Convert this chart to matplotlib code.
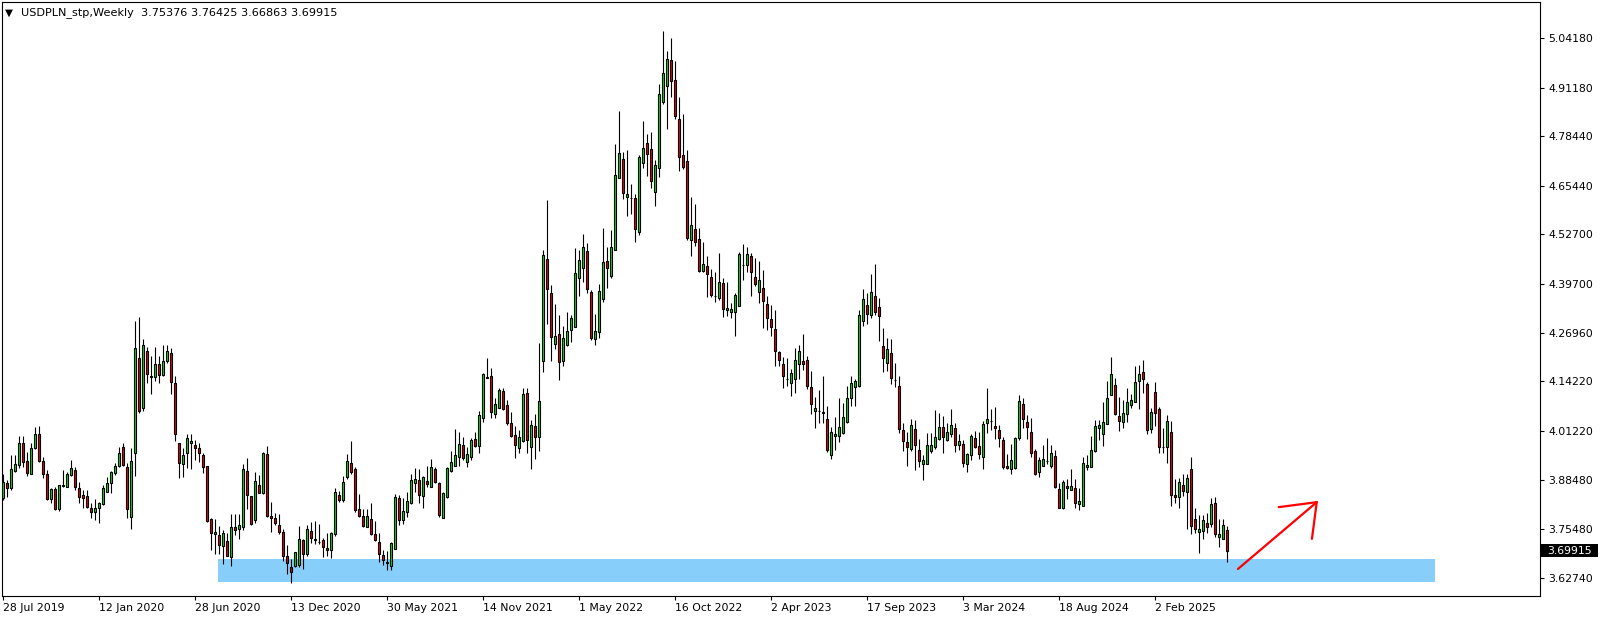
import matplotlib
matplotlib.use("Agg")
import matplotlib.pyplot as plt
import matplotlib.transforms as mtransforms
from matplotlib.patches import Rectangle

# weekly USDPLN candles, first bar = week of 28 Jul 2019
OPEN = [
    3.836, 3.875, 3.862, 3.908, 3.923, 3.980, 3.934, 3.899, 3.969, 4.004,
    3.934, 3.899, 3.833, 3.860, 3.807, 3.869, 3.865, 3.897, 3.910, 3.862,
    3.845, 3.842, 3.810, 3.799, 3.810, 3.820, 3.853, 3.875, 3.903, 3.921,
    3.970, 3.919, 3.786, 3.956, 4.203, 4.073, 4.222, 4.155, 4.153, 4.187,
    4.158, 4.196, 4.216, 4.137, 3.980, 3.925, 3.954, 3.980, 3.976, 3.967,
    3.949, 3.921, 3.781, 3.742, 3.739, 3.712, 3.724, 3.683, 3.762, 3.755,
    3.762, 3.907, 3.842, 3.778, 3.871, 3.851, 3.952, 3.790, 3.784, 3.766,
    3.747, 3.685, 3.655, 3.660, 3.661, 3.726, 3.689, 3.750, 3.729, 3.7228,
    3.726, 3.706, 3.701, 3.742, 3.844, 3.831, 3.891, 3.929, 3.912, 3.807,
    3.791, 3.762, 3.781, 3.743, 3.723, 3.687, 3.669, 3.660, 3.704, 3.836,
    3.779, 3.799, 3.823, 3.877, 3.884, 3.843, 3.881, 3.867, 3.913, 3.875,
    3.785, 3.839, 3.908, 3.922, 3.943, 3.975, 3.930, 3.945, 3.991, 3.974,
    4.046, 4.150, 4.156, 4.058, 4.072, 4.117, 4.080, 4.032, 4.001, 3.969,
    3.987, 4.111, 3.971, 4.025, 3.997, 4.196, 4.464, 4.373, 4.239, 4.266,
    4.196, 4.237, 4.278, 4.284, 4.412, 4.438, 4.484, 4.376, 4.252, 4.271,
    4.357, 4.457, 4.419, 4.486, 4.674, 4.724, 4.626, 4.623, 4.622, 4.534,
    4.715, 4.766, 4.750, 4.639, 4.700, 4.875, 4.917, 4.984, 4.931, 4.829,
    4.735, 4.719, 4.512, 4.541, 4.514, 4.432, 4.444, 4.415, 4.3665, 4.360,
    4.399, 4.328, 4.325, 4.323, 4.339, 4.4471, 4.446, 4.471, 4.415, 4.377,
    4.388, 4.344, 4.305, 4.279, 4.218, 4.187, 4.1494, 4.137, 4.148, 4.189,
    4.195, 4.197, 4.127, 4.066, 4.0655, 4.061, 4.045, 3.949, 3.998, 3.998,
    4.006, 4.037, 4.098, 4.128, 4.130, 4.301, 4.342, 4.315, 4.366, 4.336,
    4.234, 4.191, 4.217, 4.1468, 4.130, 4.014, 3.983, 3.966, 4.017, 3.963,
    3.927, 3.927, 3.961, 3.971, 3.991, 4.022, 3.990, 4.004, 4.019, 3.977,
    3.978, 3.925, 3.949, 3.993, 3.973, 3.945, 4.032, 4.038, 4.025, 4.015,
    3.989, 3.921, 3.912, 3.915, 3.995, 4.083, 4.035, 4.010, 3.961, 3.906,
    3.922, 3.9330, 3.922, 3.947, 3.860, 3.812, 3.868, 3.857, 3.864, 3.822,
    3.816, 3.919, 3.919, 3.961, 4.021, 4.004, 4.030, 4.107, 4.132, 4.051,
    4.037, 4.058, 4.080, 4.087, 4.142, 4.166, 4.135, 4.017, 4.114, 4.070,
    3.9714, 3.970, 4.009, 3.845, 3.839, 3.870, 3.853, 3.912, 3.781, 3.747,
    3.751, 3.771, 3.769, 3.823, 3.736, 3.730, 3.75376,
]
HIGH = [
    3.901, 3.884, 3.950, 3.950, 3.999, 3.999, 3.958, 3.980, 4.024, 4.025,
    3.945, 3.910, 3.864, 3.865, 3.871, 3.910, 3.905, 3.936, 3.919, 3.880,
    3.858, 3.858, 3.823, 3.833, 3.827, 3.871, 3.891, 3.908, 3.929, 3.971,
    3.980, 3.928, 3.967, 4.300, 4.310, 4.253, 4.233, 4.209, 4.232, 4.209,
    4.237, 4.237, 4.229, 4.156, 3.982, 3.967, 4.004, 4.004, 3.990, 3.980,
    3.956, 3.922, 3.784, 3.782, 3.764, 3.753, 3.744, 3.794, 3.794, 3.794,
    3.927, 3.941, 3.842, 3.906, 3.897, 3.958, 3.973, 3.827, 3.797, 3.794,
    3.757, 3.714, 3.676, 3.696, 3.764, 3.730, 3.766, 3.775, 3.777, 3.768,
    3.731, 3.744, 3.749, 3.864, 3.855, 3.894, 3.951, 3.986, 3.917, 3.847,
    3.807, 3.807, 3.823, 3.776, 3.745, 3.700, 3.698, 3.723, 3.847, 3.845,
    3.836, 3.852, 3.899, 3.915, 3.912, 3.895, 3.922, 3.938, 3.919, 3.878,
    3.852, 3.919, 3.960, 4.018, 4.009, 3.996, 3.971, 3.994, 4.009, 4.065,
    4.165, 4.203, 4.178, 4.100, 4.124, 4.124, 4.093, 4.061, 4.025, 4.015,
    4.125, 4.125, 4.041, 4.057, 4.242, 4.486, 4.617, 4.395, 4.345, 4.316,
    4.287, 4.325, 4.316, 4.491, 4.486, 4.528, 4.504, 4.381, 4.320, 4.397,
    4.544, 4.495, 4.539, 4.764, 4.851, 4.742, 4.748, 4.659, 4.633, 4.735,
    4.824, 4.790, 4.795, 4.722, 4.921, 5.060, 5.007, 5.042, 4.982, 4.888,
    4.842, 4.748, 4.626, 4.607, 4.544, 4.508, 4.470, 4.437, 4.429, 4.479,
    4.414, 4.402, 4.348, 4.375, 4.481, 4.502, 4.493, 4.478, 4.465, 4.457,
    4.434, 4.366, 4.341, 4.329, 4.223, 4.205, 4.203, 4.176, 4.231, 4.238,
    4.266, 4.209, 4.169, 4.102, 4.120, 4.156, 4.078, 4.024, 4.050, 4.098,
    4.086, 4.130, 4.156, 4.148, 4.329, 4.384, 4.375, 4.423, 4.450, 4.360,
    4.281, 4.255, 4.253, 4.190, 4.156, 4.032, 4.011, 4.044, 4.041, 3.991,
    3.949, 4.008, 4.008, 4.067, 4.059, 4.052, 4.032, 4.071, 4.032, 4.004,
    3.990, 3.956, 4.004, 4.013, 4.010, 4.039, 4.124, 4.070, 4.075, 4.029,
    3.997, 3.952, 3.978, 3.996, 4.107, 4.098, 4.054, 4.046, 3.966, 3.945,
    3.976, 3.995, 3.977, 3.963, 3.877, 3.884, 3.886, 3.913, 3.887, 3.863,
    3.945, 3.949, 3.999, 4.041, 4.041, 4.089, 4.142, 4.207, 4.150, 4.102,
    4.094, 4.124, 4.108, 4.183, 4.185, 4.198, 4.140, 4.072, 4.140, 4.076,
    4.021, 4.054, 4.039, 3.886, 3.888, 3.899, 3.900, 3.943, 3.812, 3.792,
    3.792, 3.798, 3.836, 3.839, 3.781, 3.782, 3.76425,
]
LOW = [
    3.832, 3.840, 3.858, 3.906, 3.915, 3.919, 3.895, 3.899, 3.964, 3.932,
    3.890, 3.832, 3.825, 3.805, 3.804, 3.865, 3.865, 3.895, 3.858, 3.823,
    3.810, 3.812, 3.785, 3.779, 3.772, 3.819, 3.852, 3.849, 3.897, 3.919,
    3.921, 3.784, 3.757, 3.895, 4.060, 4.065, 4.139, 4.108, 4.144, 4.137,
    4.157, 4.191, 4.108, 3.987, 3.888, 3.893, 3.916, 3.914, 3.936, 3.932,
    3.903, 3.775, 3.701, 3.690, 3.689, 3.664, 3.685, 3.659, 3.740, 3.730,
    3.753, 3.807, 3.766, 3.771, 3.849, 3.847, 3.788, 3.749, 3.766, 3.742,
    3.673, 3.638, 3.615, 3.657, 3.657, 3.651, 3.685, 3.718, 3.716, 3.716,
    3.683, 3.685, 3.681, 3.737, 3.827, 3.826, 3.886, 3.901, 3.801, 3.788,
    3.762, 3.760, 3.741, 3.725, 3.670, 3.661, 3.648, 3.648, 3.704, 3.766,
    3.770, 3.788, 3.821, 3.853, 3.825, 3.812, 3.866, 3.865, 3.875, 3.788,
    3.785, 3.836, 3.906, 3.921, 3.921, 3.936, 3.919, 3.936, 3.970, 3.954,
    4.037, 4.150, 4.047, 4.047, 4.072, 4.067, 4.028, 3.996, 3.942, 3.956,
    3.984, 3.956, 3.914, 3.938, 3.961, 4.168, 4.292, 4.196, 4.226, 4.146,
    4.183, 4.235, 4.246, 4.284, 4.366, 4.403, 4.374, 4.250, 4.237, 4.255,
    4.351, 4.386, 4.412, 4.486, 4.674, 4.621, 4.576, 4.580, 4.508, 4.525,
    4.702, 4.681, 4.649, 4.602, 4.678, 4.868, 4.804, 4.888, 4.829, 4.694,
    4.698, 4.512, 4.471, 4.498, 4.428, 4.429, 4.364, 4.362, 4.351, 4.355,
    4.312, 4.314, 4.309, 4.262, 4.339, 4.408, 4.430, 4.367, 4.392, 4.348,
    4.283, 4.278, 4.262, 4.183, 4.183, 4.126, 4.131, 4.105, 4.113, 4.148,
    4.172, 4.122, 4.056, 4.021, 4.034, 4.032, 3.958, 3.938, 3.962, 3.984,
    4.004, 4.032, 4.079, 4.079, 4.128, 4.287, 4.293, 4.307, 4.316, 4.249,
    4.168, 4.169, 4.136, 4.128, 4.008, 3.961, 3.922, 3.961, 3.911, 3.919,
    3.884, 3.927, 3.956, 3.964, 3.989, 3.956, 3.986, 3.997, 3.958, 3.963,
    3.917, 3.906, 3.936, 3.967, 3.940, 3.914, 4.008, 4.015, 3.992, 3.971,
    3.912, 3.912, 3.901, 3.914, 3.989, 4.019, 3.992, 3.945, 3.898, 3.893,
    3.921, 3.927, 3.915, 3.864, 3.810, 3.807, 3.833, 3.857, 3.812, 3.805,
    3.816, 3.910, 3.919, 3.958, 3.989, 3.973, 4.030, 4.107, 4.054, 4.013,
    4.019, 4.037, 4.072, 4.087, 4.071, 4.113, 4.004, 4.006, 4.025, 3.956,
    3.956, 3.928, 3.816, 3.823, 3.812, 3.842, 3.756, 3.743, 3.744, 3.694,
    3.729, 3.746, 3.760, 3.736, 3.708, 3.729, 3.66863,
]
CLOSE = [
    3.880, 3.862, 3.912, 3.925, 3.980, 3.932, 3.903, 3.967, 4.004, 3.934,
    3.899, 3.833, 3.860, 3.807, 3.870, 3.870, 3.901, 3.915, 3.865, 3.840,
    3.836, 3.814, 3.801, 3.810, 3.823, 3.862, 3.875, 3.905, 3.922, 3.954,
    3.923, 3.807, 3.935, 4.229, 4.066, 4.237, 4.162, 4.156, 4.187, 4.158,
    4.195, 4.222, 4.140, 4.004, 3.928, 3.949, 3.993, 3.986, 3.967, 3.954,
    3.917, 3.777, 3.744, 3.747, 3.713, 3.744, 3.686, 3.762, 3.753, 3.765,
    3.912, 3.844, 3.769, 3.881, 3.851, 3.954, 3.791, 3.785, 3.771, 3.747,
    3.685, 3.668, 3.644, 3.695, 3.729, 3.689, 3.756, 3.731, 3.727, 3.7224,
    3.709, 3.702, 3.744, 3.852, 3.832, 3.879, 3.934, 3.906, 3.805, 3.790,
    3.764, 3.791, 3.743, 3.727, 3.691, 3.674, 3.666, 3.720, 3.839, 3.779,
    3.802, 3.828, 3.884, 3.886, 3.846, 3.893, 3.873, 3.918, 3.880, 3.793,
    3.849, 3.915, 3.930, 3.949, 3.978, 3.942, 3.952, 3.989, 3.974, 4.053,
    4.162, 4.155, 4.063, 4.082, 4.120, 4.069, 4.032, 4.000, 3.975, 3.996,
    4.108, 3.988, 4.028, 3.997, 4.091, 4.473, 4.383, 4.259, 4.261, 4.194,
    4.257, 4.275, 4.307, 4.425, 4.460, 4.495, 4.383, 4.257, 4.274, 4.378,
    4.454, 4.438, 4.495, 4.684, 4.739, 4.636, 4.633, 4.622, 4.540, 4.729,
    4.753, 4.737, 4.668, 4.708, 4.896, 4.951, 4.986, 4.930, 4.838, 4.731,
    4.704, 4.517, 4.551, 4.508, 4.432, 4.450, 4.423, 4.368, 4.3657, 4.402,
    4.333, 4.334, 4.331, 4.368, 4.475, 4.4469, 4.475, 4.428, 4.396, 4.407,
    4.354, 4.309, 4.285, 4.223, 4.197, 4.157, 4.1492, 4.163, 4.197, 4.221,
    4.189, 4.130, 4.082, 4.072, 4.0653, 4.059, 3.962, 4.009, 4.004, 4.022,
    4.048, 4.098, 4.137, 4.143, 4.316, 4.358, 4.318, 4.376, 4.325, 4.314,
    4.204, 4.227, 4.151, 4.1466, 4.018, 3.987, 3.971, 4.028, 3.977, 3.935,
    3.936, 3.976, 3.977, 3.996, 4.022, 3.997, 4.009, 4.028, 3.977, 3.985,
    3.929, 3.951, 3.998, 3.971, 3.951, 4.031, 4.043, 4.039, 4.019, 3.995,
    3.917, 3.915, 3.936, 3.994, 4.091, 4.043, 4.022, 3.954, 3.900, 3.936,
    3.939, 3.9328, 3.954, 3.867, 3.810, 3.878, 3.862, 3.868, 3.825, 3.828,
    3.928, 3.923, 3.963, 4.025, 4.028, 4.035, 4.098, 4.162, 4.058, 4.038,
    4.059, 4.088, 4.093, 4.140, 4.162, 4.148, 4.014, 4.061, 4.059, 3.970,
    3.9712, 4.039, 3.846, 3.840, 3.878, 3.856, 3.888, 3.764, 3.755, 3.755,
    3.778, 3.760, 3.821, 3.742, 3.742, 3.765, 3.69915,
]

DATE_LABELS = ["28 Jul 2019", "12 Jan 2020", "28 Jun 2020", "13 Dec 2020",
               "30 May 2021", "14 Nov 2021", "1 May 2022", "16 Oct 2022",
               "2 Apr 2023", "17 Sep 2023", "3 Mar 2024", "18 Aug 2024",
               "2 Feb 2025"]
DATE_STEP = 24  # bars between date labels
PRICE_TICKS = [5.04180, 4.91180, 4.78440, 4.65440, 4.52700, 4.39700,
               4.26960, 4.14220, 4.01220, 3.88480, 3.75480, 3.62740]
LAST_PRICE = 3.69915
HEADER = "USDPLN_stp,Weekly  3.75376 3.76425 3.66863 3.69915"

# support zone (bar index span, price span) and hand-drawn arrow
ZONE_X = (53.9, 357.9)
ZONE_Y = (3.617, 3.677)
ARROW_X = [308.7, 328.4]
ARROW_Y = [3.651, 3.826]
HEAD1_X, HEAD1_Y = [318.9, 328.4], [3.813, 3.826]
HEAD2_X, HEAD2_Y = [327.2, 328.4], [3.730, 3.826]

W, H = 1604, 620
fig = plt.figure(figsize=(W / 100, H / 100), dpi=100)
ax = fig.add_axes([2 / W, 24 / H, 1538 / W, 594 / H])

n = len(OPEN)
xs = list(range(n))
up = [c >= o for o, c in zip(OPEN, CLOSE)]
faces = ["#00e400" if u else "#e80000" for u in up]

ax.add_patch(Rectangle((ZONE_X[0], ZONE_Y[0]), ZONE_X[1] - ZONE_X[0],
                       ZONE_Y[1] - ZONE_Y[0], facecolor="#87cefa",
                       edgecolor="none", zorder=1))

ax.vlines(xs, LOW, HIGH, color="black", linewidth=0.8, zorder=2)
ax.bar(xs, [c - o for o, c in zip(OPEN, CLOSE)], bottom=OPEN, width=0.6,
       color=faces, edgecolor="black", linewidth=0.8, zorder=3)

for px, py in [(ARROW_X, ARROW_Y), (HEAD1_X, HEAD1_Y), (HEAD2_X, HEAD2_Y)]:
    ax.plot(px, py, color="#ff0000", linewidth=1.6, zorder=4,
            solid_capstyle="round")

ax.set_xlim(-0.2, 384.2)
ax.set_ylim(3.5803, 5.1357)

ax.set_xticks([i * DATE_STEP for i in range(len(DATE_LABELS))])
ax.set_xticklabels(DATE_LABELS, ha="left")
ax.yaxis.tick_right()
ax.set_yticks(PRICE_TICKS)
ax.set_yticklabels([f"{v:.5f}" for v in PRICE_TICKS])
ax.tick_params(axis="both", direction="out", length=3, width=0.8,
               labelsize=7.8, colors="black")
ax.tick_params(axis="y", pad=3)
ax.tick_params(axis="x", pad=2)
for sp in ax.spines.values():
    sp.set_linewidth(0.8)
    sp.set_color("black")

# current price tag on the price scale
trans = mtransforms.blended_transform_factory(ax.transAxes, ax.transData)
ax.add_patch(Rectangle((1.0, LAST_PRICE - 0.017), 58 / 1538, 0.034,
                       transform=trans, facecolor="black", edgecolor="none",
                       clip_on=False, zorder=5))
ax.text(1.0 + 7 / 1538, LAST_PRICE, f"{LAST_PRICE:.5f}", transform=trans,
        color="white", fontsize=7.8, va="center", ha="left", zorder=6)

fig.text(5 / W, 1 - 13 / H, "\u25bc", fontsize=7.5, va="center", ha="left")
fig.text(21 / W, 1 - 13 / H, HEADER, fontsize=8.1, va="center", ha="left")

fig.savefig("out.png", dpi=100)
